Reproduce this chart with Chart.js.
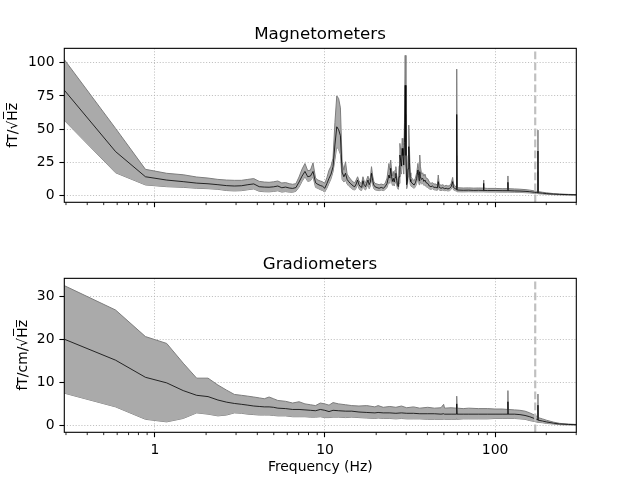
<!DOCTYPE html>
<html><head><meta charset="utf-8">
<script src="https://cdn.jsdelivr.net/npm/chart.js@4.4.1/dist/chart.umd.min.js"></script>
<style>
html,body{margin:0;padding:0;background:#fff;}
#wrap{position:relative;width:640px;height:480px;background:#fff;}
.c{position:absolute;left:0;width:640px;height:240px;}
</style></head><body>
<div id="wrap">
<div class="c" style="top:0"><canvas id="mag"></canvas></div>
<div class="c" style="top:240px"><canvas id="grad"></canvas></div>
</div>
<script>
// ---------- DATA ----------
const magFreqs = [0.293,0.587,0.880,1.173,1.467,1.760,2.053,2.346,2.640,2.933,3.226,3.519,3.812,4.106,4.399,4.692,4.985,5.279,5.572,5.865,
  6.159,6.452,6.745,7.038,7.332,7.625,7.918,8.212,8.505,8.798,9.091,9.385,9.678,9.971,10.27,10.56,10.85,11.15,11.44,11.73,
  12.03,12.32,12.61,12.91,13.20,13.49,13.79,14.08,14.37,14.67,14.96,15.25,15.55,15.84,16.13,16.43,16.72,17.01,17.31,17.60,
  17.89,18.19,18.48,18.77,19.07,19.36,19.65,20.24,20.82,21.41,22.00,22.58,23.17,23.76,24.05,24.34,24.64,24.93,25.22,25.52,
  25.81,26.10,26.40,26.69,26.98,27.28,27.57,27.86,28.16,28.45,28.74,29.04,29.33,29.62,29.92,30.21,30.50,30.80,31.09,31.38,
  31.68,31.97,32.85,33.44,34.02,34.61,35.20,35.49,35.78,36.07,36.37,36.95,37.54,38.13,38.71,39.30,40.18,41.06,41.94,42.82,
  43.70,44.88,45.76,46.34,46.93,48.10,49.28,50.45,51.62,52.80,53.97,55.15,56.32,56.90,57.79,58.37,59.20,59.50,59.80,65.0,
  70.0,75.0,80.0,85.3,85.6,85.9,90.0,100.0,110.0,118.7,119.0,119.3,130.0,140.0,150.0,160.0,170.0,175.0,178.4,178.7,
  179.0,190.0,200.0,220.0,240.0,270.0,300.3];
const magMean = [79.4,33.0,14.0,11.5,10.3,9.2,8.7,8.0,7.3,7.0,7.2,8.0,8.6,6.5,6.2,6.1,6.4,7.0,5.7,6.2,
  5.5,5.2,5.8,10.0,14.5,18.0,14.0,14.5,18.0,9.5,8.2,7.4,6.8,5.3,9.0,12.8,16.0,21.6,38.0,51.7,
  49.5,45.0,17.5,14.0,16.6,12.0,10.3,9.0,8.0,7.0,6.5,8.5,11.5,8.0,6.5,6.0,11.0,7.5,6.5,9.0,
  11.5,8.0,10.0,16.6,11.0,7.8,6.5,5.8,5.3,6.0,5.3,6.5,9.0,15.3,13.0,20.4,14.0,10.5,12.8,10.0,
  13.5,16.6,11.0,8.0,6.5,14.0,30.4,26.0,22.0,35.4,30.0,22.8,40.0,83.0,30.0,8.0,10.0,20.0,36.7,25.0,
  12.0,10.3,8.5,7.8,9.5,12.8,19.1,15.0,11.0,17.8,14.0,12.0,12.8,10.5,11.5,9.5,9.0,7.0,6.5,7.0,
  6.0,6.0,5.5,10.3,6.0,5.3,5.8,5.0,5.3,4.8,5.2,6.5,10.3,6.0,5.3,5.0,4.5,61.0,4.0,3.8,
  3.9,3.7,3.8,3.7,9.0,3.7,3.6,3.6,3.5,3.5,9.8,3.5,3.3,3.2,3.0,2.7,2.3,2.1,2.0,33.4,
  1.9,1.6,1.3,0.9,0.7,0.5,0.4];
const magUpper = [102.5,50.5,19.6,16.6,15.5,13.8,13.0,12.0,11.5,11.3,11.3,12.0,12.6,10.5,10.0,9.8,10.2,10.8,9.3,9.6,
  8.8,8.3,8.8,13.8,19.8,24.0,18.5,19.0,24.5,13.0,11.5,10.8,10.2,9.0,13.5,19.0,22.0,28.0,55.0,75.0,
  73.0,66.0,25.0,19.0,25.3,16.0,14.0,12.5,11.0,10.0,9.5,11.5,14.0,11.0,9.5,9.0,14.0,10.5,9.5,12.0,
  14.5,11.0,13.5,21.6,14.5,10.5,9.0,8.5,8.0,8.5,8.0,9.0,13.0,24.0,19.0,26.6,19.0,14.5,18.0,14.0,
  19.0,21.6,15.0,11.0,9.0,22.0,39.2,34.0,30.0,43.0,38.0,30.0,55.0,105.6,40.0,11.0,14.0,30.0,53.0,35.0,
  17.0,14.0,12.0,11.0,13.0,17.0,24.1,20.0,15.0,30.4,22.0,16.0,17.0,14.5,16.0,13.0,12.5,10.0,9.0,9.5,
  8.5,8.5,7.5,15.3,8.5,7.5,8.0,7.0,7.5,7.0,7.2,9.0,13.5,8.5,7.5,7.0,6.0,95.2,5.7,5.5,
  5.6,5.4,5.5,5.4,11.5,5.4,5.2,5.2,5.0,5.0,14.6,5.0,4.8,4.6,4.3,3.9,3.3,3.0,2.9,49.2,
  2.8,2.3,1.9,1.3,1.0,0.7,0.55];
const magLower = [56.6,17.0,7.8,6.5,6.0,5.3,5.0,4.5,3.6,3.3,3.5,4.2,4.8,3.0,2.7,2.6,2.9,3.4,2.4,2.8,
  2.4,2.3,3.0,6.2,10.5,14.0,10.5,11.0,14.0,6.0,5.2,4.3,3.6,2.5,5.5,9.0,12.5,17.8,27.0,36.7,
  34.5,31.0,12.0,10.0,11.5,8.5,7.0,6.0,5.0,4.3,4.0,5.5,8.5,5.0,4.0,3.7,8.0,4.8,4.0,6.0,
  8.5,5.0,7.0,12.5,8.0,5.0,4.2,3.8,3.5,4.0,3.5,4.3,6.0,10.5,9.0,15.0,10.0,7.5,9.0,7.0,
  9.5,12.0,7.5,5.5,4.5,9.0,22.8,19.5,16.0,27.0,23.0,16.0,30.0,61.0,22.0,5.0,7.0,14.0,25.3,17.0,
  8.5,7.0,6.0,5.3,6.5,9.0,14.0,11.0,8.0,12.0,10.0,8.5,9.0,7.5,8.0,6.5,6.0,4.8,4.5,5.0,
  4.2,4.0,3.8,7.0,4.0,3.6,4.0,3.5,3.6,3.3,3.5,4.5,7.0,4.2,3.6,3.5,3.2,30.0,2.7,2.6,
  2.7,2.6,2.6,2.6,6.0,2.6,2.5,2.5,2.4,2.4,5.5,2.4,2.3,2.2,2.0,1.8,1.5,1.4,1.3,18.0,
  1.2,1.0,0.8,0.5,0.35,0.2,0.05];

const gradFreqs = [0.293,0.587,0.880,1.173,1.467,1.760,2.053,2.346,2.640,2.933,3.226,3.519,3.812,4.106,4.399,4.692,4.985,5.279,5.865,6.452,
  7.038,7.625,8.212,8.798,9.385,9.971,10.56,11.15,12.03,13.20,14.37,15.84,17.60,19.65,20.53,22.00,24.05,26.10,28.16,30.21,
  33.15,36.07,40.18,44.00,48.10,49.86,50.45,55.15,59.20,59.50,59.80,65.0,70.0,80.0,90.0,100.0,110.0,118.7,119.0,119.3,
  130.0,140.0,150.0,160.0,170.0,178.4,178.7,179.0,190.0,200.0,220.0,240.0,270.0,300.3];
const gradMean = [20.1,15.2,11.2,9.9,8.1,7.0,6.7,5.9,5.4,5.1,4.9,4.7,4.5,4.4,4.3,4.3,4.2,4.0,3.9,3.7,
  3.7,3.6,3.5,3.4,3.7,3.5,3.2,3.5,3.4,3.3,3.3,3.1,3.0,2.9,3.0,2.9,2.9,2.8,2.9,2.8,
  2.8,2.7,2.7,2.7,2.6,2.7,2.6,2.6,2.6,5.0,2.6,2.6,2.6,2.6,2.6,2.6,2.6,2.6,5.5,2.6,
  2.6,2.5,2.3,2.0,1.6,1.3,4.7,1.2,1.0,0.8,0.5,0.3,0.2,0.15];
const gradUpper = [32.6,26.9,20.7,19.1,14.5,11.0,11.0,9.4,8.2,7.2,7.0,6.8,6.6,6.4,6.2,6.6,6.2,5.8,5.6,5.2,
  5.5,5.0,4.8,4.6,5.2,5.0,4.7,5.3,5.0,4.8,4.6,4.5,4.6,4.3,4.6,4.2,4.4,4.2,4.5,4.1,
  4.3,4.0,4.2,4.0,4.1,4.9,4.0,4.1,4.0,6.8,4.0,3.9,4.0,3.9,3.9,3.8,3.8,3.7,8.1,3.7,
  3.6,3.5,3.3,2.9,2.4,2.0,7.3,1.8,1.5,1.2,0.75,0.45,0.3,0.2];
const gradLower = [7.5,4.3,1.4,0.8,1.6,2.9,2.6,2.2,2.4,2.9,2.8,2.6,2.5,2.4,2.4,2.4,2.3,2.2,2.2,2.0,
  2.0,2.0,1.9,1.9,2.0,1.8,1.8,1.9,1.9,1.8,1.9,1.8,1.7,1.6,1.7,1.6,1.6,1.5,1.6,1.5,
  1.5,1.5,1.4,1.4,1.4,1.4,1.4,1.4,1.4,1.8,1.4,1.5,1.5,1.5,1.5,1.6,1.6,1.6,2.0,1.6,
  1.6,1.5,1.4,1.1,0.9,0.7,1.5,0.7,0.6,0.45,0.3,0.15,0.1,0.05];

const xRange = [0.29327, 300.3];
const xMajorTicks = [1, 10, 100];
const xMinorTicks = [0.3,0.4,0.5,0.6,0.7,0.8,0.9,2,3,4,5,6,7,8,9,20,30,40,50,60,70,80,90,200,300];
const magYTicks = [0, 25, 50, 75, 100];
const gradYTicks = [0, 10, 20, 30];
const magYRange = [-5.28, 110.9];
const gradYRange = [-1.63, 34.29];
const lowpassHz = [172.18];

// ---------- STYLE ----------
const FONT = 'DejaVu Sans';
const bandFill = 'rgb(170,170,170)';
const bandEdge = 'rgb(125,125,125)';

const decor = {
  id: 'decor',
  afterDatasetsDraw(chart) {
    const {ctx, chartArea: a, scales: {x}} = chart;
    ctx.save();
    ctx.beginPath(); ctx.rect(a.left, a.top, a.right - a.left, a.bottom - a.top); ctx.clip();
    ctx.strokeStyle = 'rgb(192,192,192)';
    ctx.lineWidth = 2.2;
    ctx.setLineDash([7.7, 3.3]);
    for (const f of lowpassHz) {
      const px = x.getPixelForValue(f);
      ctx.beginPath(); ctx.moveTo(px, a.bottom); ctx.lineTo(px, a.top); ctx.stroke();
    }
    ctx.restore();
    ctx.save();
    ctx.setLineDash([]);
    ctx.strokeStyle = '#000';
    ctx.lineWidth = 0.85;
    for (const v of xMinorTicks) {
      const px = x.getPixelForValue(v);
      if (px < a.left - 0.5 || px > a.right + 0.5) continue;
      ctx.beginPath(); ctx.moveTo(px, a.bottom); ctx.lineTo(px, a.bottom + 2.8); ctx.stroke();
    }
    ctx.lineWidth = 1.1;
    ctx.strokeRect(a.left, a.top, a.right - a.left, a.bottom - a.top);
    ctx.restore();
  }
};

function makeChart(id, cfg) {
  const pts = arr => cfg.freqs.map((f, i) => ({x: f, y: arr[i]}));
  return new Chart(document.getElementById(id), {
    type: 'line',
    data: {
      datasets: [
        {label: 'mean', data: pts(cfg.mean), borderColor: '#000', borderWidth: 0.8, pointRadius: 0, fill: false, tension: 0},
        {label: 'upper', data: pts(cfg.upper), borderColor: bandEdge, borderWidth: 1, pointRadius: 0, backgroundColor: bandFill, fill: '+1', tension: 0},
        {label: 'lower', data: pts(cfg.lower), borderColor: bandEdge, borderWidth: 1, pointRadius: 0, fill: false, tension: 0}
      ]
    },
    options: {
      responsive: true, maintainAspectRatio: false, animation: false,
      layout: {padding: {left: 0, right: 0, top: 0, bottom: 0}},
      plugins: {
        legend: {display: false}, tooltip: {enabled: false},
        title: {display: true, text: cfg.title, color: '#000',
          font: {family: FONT, size: 16.7, weight: 'normal', lineHeight: 1.2},
          padding: {top: cfg.titleTop, bottom: cfg.titleBottom}}
      },
      scales: {
        x: {
          type: 'logarithmic', bounds: 'data', min: xRange[0], max: xRange[1],
          afterBuildTicks: s => { s.ticks = xMajorTicks.concat(xMinorTicks).sort((a, b) => a - b).map(v => ({value: v, major: xMajorTicks.includes(v)})); },
          afterFit: s => { s.height = cfg.xHeight; },
          ticks: {autoSkip: false, maxRotation: 0, minRotation: 0, padding: 4.5, color: '#000',
            font: {family: FONT, size: 13.9, lineHeight: 1.2},
            callback: v => (cfg.xLabels && xMajorTicks.includes(v)) ? String(v) : ''},
          grid: {
            color: c => (c.tick && xMajorTicks.includes(c.tick.value)) ? '#b0b0b0' : 'rgba(0,0,0,0)',
            tickColor: c => (c.tick && xMajorTicks.includes(c.tick.value)) ? '#000' : 'rgba(0,0,0,0)',
            lineWidth: 0.8, tickLength: 4.9, tickWidth: 1.1, borderDash: [1.1, 1.8], tickBorderDash: []
          },
          border: {display: false, dash: [1.1, 1.8]},
          title: {display: cfg.xLabels, text: 'Frequency (Hz)', color: '#000',
            font: {family: FONT, size: 13.9, lineHeight: 1.2}, padding: {top: 0, bottom: 4.7}}
        },
        y: {
          type: 'linear', position: 'left', bounds: 'data', min: cfg.yRange[0], max: cfg.yRange[1],
          afterBuildTicks: s => { s.ticks = cfg.yTicks.map(v => ({value: v})); },
          afterFit: s => { s.width = 64.3; },
          ticks: {padding: 4.9, color: '#000', font: {family: FONT, size: 13.9, lineHeight: 1.2}},
          grid: {color: '#b0b0b0', tickColor: '#000', lineWidth: 0.8, tickLength: 4.9, tickWidth: 1.1,
            borderDash: [1.1, 1.8], tickBorderDash: []},
          border: {display: false, dash: [1.1, 1.8]},
          title: {display: true, text: cfg.yTitle, color: '#000',
            font: {family: FONT, size: 13.9, lineHeight: 1.2}, padding: {top: cfg.yTitlePad, bottom: 0}}
        },
        yRightMargin: {
          type: 'linear', position: 'right', display: true, min: 0, max: 1,
          afterFit: s => { s.width = 63.7; },
          ticks: {display: false}, grid: {display: false, drawTicks: false}, border: {display: false}
        }
      }
    },
    plugins: [decor]
  });
}

makeChart('mag', {
  freqs: magFreqs, mean: magMean, upper: magUpper, lower: magLower,
  title: 'Magnetometers', titleTop: 25, titleBottom: 3.3,
  yRange: magYRange, yTicks: magYTicks, yTitle: 'fT/\u221AH\u0305z\u0305', yTitlePad: 4.7,
  xHeight: 37.7, xLabels: false
});
makeChart('grad', {
  freqs: gradFreqs, mean: gradMean, upper: gradUpper, lower: gradLower,
  title: 'Gradiometers', titleTop: 15, titleBottom: 3.3,
  yRange: gradYRange, yTicks: gradYTicks, yTitle: 'fT/cm/\u221AH\u0305z\u0305', yTitlePad: 15,
  xHeight: 47.7, xLabels: true
});
</script>
</body></html>
